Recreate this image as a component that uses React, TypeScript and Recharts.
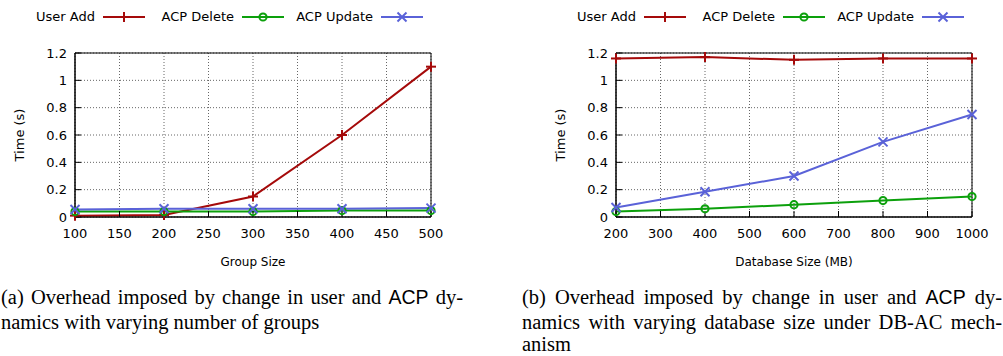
import React from "react";
import { CartesianGrid, Line, LineChart, ReferenceArea, XAxis, YAxis } from "recharts";

// (a) varying number of groups
const groupSizes = [100, 200, 300, 400, 500];
const groupUserAdd = [0.01, 0.015, 0.15, 0.6, 1.1];
const groupAcpDelete = [0.04, 0.04, 0.04, 0.047, 0.047];
const groupAcpUpdate = [0.055, 0.06, 0.06, 0.06, 0.065];
const groupTicks = [100, 150, 200, 250, 300, 350, 400, 450, 500];

// (b) varying database size
const dbSizes = [200, 400, 600, 800, 1000];
const dbUserAdd = [1.16, 1.17, 1.15, 1.16, 1.16];
const dbAcpDelete = [0.04, 0.06, 0.09, 0.12, 0.15];
const dbAcpUpdate = [0.07, 0.185, 0.3, 0.55, 0.75];
const dbTicks = [200, 300, 400, 500, 600, 700, 800, 900, 1000];

const timeTicks = [0, 0.2, 0.4, 0.6, 0.8, 1, 1.2];

const seriesNames = ["User Add", "ACP Delete", "ACP Update"];
const RED = "#a50a0a";
const GREEN = "#0ca00c";
const BLUE = "#5a62d8";
const colors = [RED, GREEN, BLUE];
const markers = ["plus", "circle", "cross"];

const chartFont = "'DejaVu Sans', sans-serif";

function Marker({ cx, cy, kind, color }: { cx: number; cy: number; kind: string; color: string }) {
  if (cx == null || cy == null) return null;
  if (kind === "plus") {
    return (
      <g stroke={color} strokeWidth={2}>
        <line x1={cx - 5} y1={cy} x2={cx + 5} y2={cy} />
        <line x1={cx} y1={cy - 5} x2={cx} y2={cy + 5} />
      </g>
    );
  }
  if (kind === "circle") {
    return <circle cx={cx} cy={cy} r={3.6} fill="none" stroke={color} strokeWidth={2} />;
  }
  return (
    <g stroke={color} strokeWidth={2}>
      <line x1={cx - 4.5} y1={cy - 4.5} x2={cx + 4.5} y2={cy + 4.5} />
      <line x1={cx - 4.5} y1={cy + 4.5} x2={cx + 4.5} y2={cy - 4.5} />
    </g>
  );
}

function KeySample({ idx }: { idx: number }) {
  return (
    <svg width={42} height={14} style={{ display: "block" }}>
      <line x1={0} y1={7} x2={42} y2={7} stroke={colors[idx]} strokeWidth={2} />
      <Marker cx={21} cy={7} kind={markers[idx]} color={colors[idx]} />
    </svg>
  );
}

function Key() {
  return (
    <div style={{ position: "absolute", left: 6, top: 9, display: "flex", fontFamily: chartFont, fontSize: 13 }}>
      {seriesNames.map((name, i) => (
        <div key={name} style={{ width: 139, display: "flex", justifyContent: "flex-end", alignItems: "center", gap: 8 }}>
          <span>{name}</span>
          <KeySample idx={i} />
        </div>
      ))}
    </div>
  );
}

interface PanelProps {
  left: number;
  xs: number[];
  series: number[][];
  xTicks: number[];
  xLabel: string;
}

function Panel({ left, xs, series, xTicks, xLabel }: PanelProps) {
  const data = xs.map((x, i) => ({
    x,
    s0: series[0][i],
    s1: series[1][i],
    s2: series[2][i]
  }));
  return (
    <div style={{ position: "absolute", left, top: 0, width: 460, height: 280 }}>
      <Key />
      <LineChart
        width={460}
        height={280}
        data={data}
        margin={{ top: 53, right: 29, bottom: 0, left: 0 }}
        style={{ fontFamily: chartFont }}
      >
        <CartesianGrid stroke="#666" strokeDasharray="1 2" />
        <XAxis
          dataKey="x"
          type="number"
          domain={[xs[0], xs[xs.length - 1]]}
          ticks={xTicks}
          height={63}
          axisLine={{ stroke: "#000" }}
          tickLine={{ stroke: "#000" }}
          tickSize={-6}
          tickMargin={18}
          tick={{ fill: "#000", fontSize: 13 }}
          label={{
            content: ({ viewBox }: any) => (
              <text
                x={viewBox.x + viewBox.width / 2}
                y={262}
                textAnchor="middle"
                dominantBaseline="central"
                fontSize={12}
                fill="#000"
              >
                {xLabel}
              </text>
            )
          }}
        />
        <YAxis
          type="number"
          domain={[0, 1.2]}
          ticks={timeTicks}
          width={75}
          axisLine={{ stroke: "#000" }}
          tickLine={{ stroke: "#000" }}
          tickSize={-6}
          tickMargin={14}
          tick={{ fill: "#000", fontSize: 13 }}
          label={{
            content: ({ viewBox }: any) => {
              const cy = viewBox.y + viewBox.height / 2;
              return (
                <text
                  x={19}
                  y={cy}
                  transform={`rotate(-90 19 ${cy})`}
                  textAnchor="middle"
                  dominantBaseline="central"
                  fontSize={13}
                  fill="#000"
                >
                  Time (s)
                </text>
              );
            }
          }}
        />
        <ReferenceArea
          x1={xs[0]}
          x2={xs[xs.length - 1]}
          y1={0}
          y2={1.2}
          fill="none"
          stroke="#000"
          strokeWidth={1}
          fillOpacity={0}
          ifOverflow="visible"
        />
        {[0, 1, 2].map((i) => (
          <Line
            key={i}
            dataKey={`s${i}`}
            name={seriesNames[i]}
            stroke={colors[i]}
            strokeWidth={2}
            isAnimationActive={false}
            dot={(p: any) => <Marker key={p.index} cx={p.cx} cy={p.cy} kind={markers[i]} color={colors[i]} />}
            activeDot={false}
          />
        ))}
      </LineChart>
    </div>
  );
}

const captionFont = "'Liberation Serif', 'Times New Roman', serif";
const acp = <span style={{ fontFamily: "'Liberation Sans', Arial, sans-serif", fontSize: "0.95em" }}>ACP</span>;

function CaptionLine({ left, top, width, justify, children }: any) {
  return (
    <div
      style={{
        position: "absolute",
        left,
        top,
        width,
        whiteSpace: "nowrap",
        textAlign: justify ? "justify" : "left",
        textAlignLast: justify ? "justify" : "left",
        fontFamily: captionFont,
        fontSize: 20.5,
        lineHeight: "18px"
      }}
    >
      {children}
    </div>
  );
}

export default function App() {
  return (
    <div style={{ position: "absolute", left: 0, top: 0, width: 1003, height: 356, background: "#fff", overflow: "hidden" }}>
      <Panel
        left={0}
        xs={groupSizes}
        series={[groupUserAdd, groupAcpDelete, groupAcpUpdate]}
        xTicks={groupTicks}
        xLabel="Group Size"
      />
      <Panel
        left={541}
        xs={dbSizes}
        series={[dbUserAdd, dbAcpDelete, dbAcpUpdate]}
        xTicks={dbTicks}
        xLabel="Database Size (MB)"
      />
      <CaptionLine left={1} top={288} width={462} justify>
        (a) Overhead imposed by change in user and {acp} dy-
      </CaptionLine>
      <CaptionLine left={1} top={313} width={462}>
        namics with varying number of groups
      </CaptionLine>
      <CaptionLine left={522} top={288} width={480} justify>
        (b) Overhead imposed by change in user and {acp} dy-
      </CaptionLine>
      <CaptionLine left={522} top={313} width={480} justify>
        namics with varying database size under DB-AC mech-
      </CaptionLine>
      <CaptionLine left={522} top={335} width={480}>
        anism
      </CaptionLine>
    </div>
  );
}
